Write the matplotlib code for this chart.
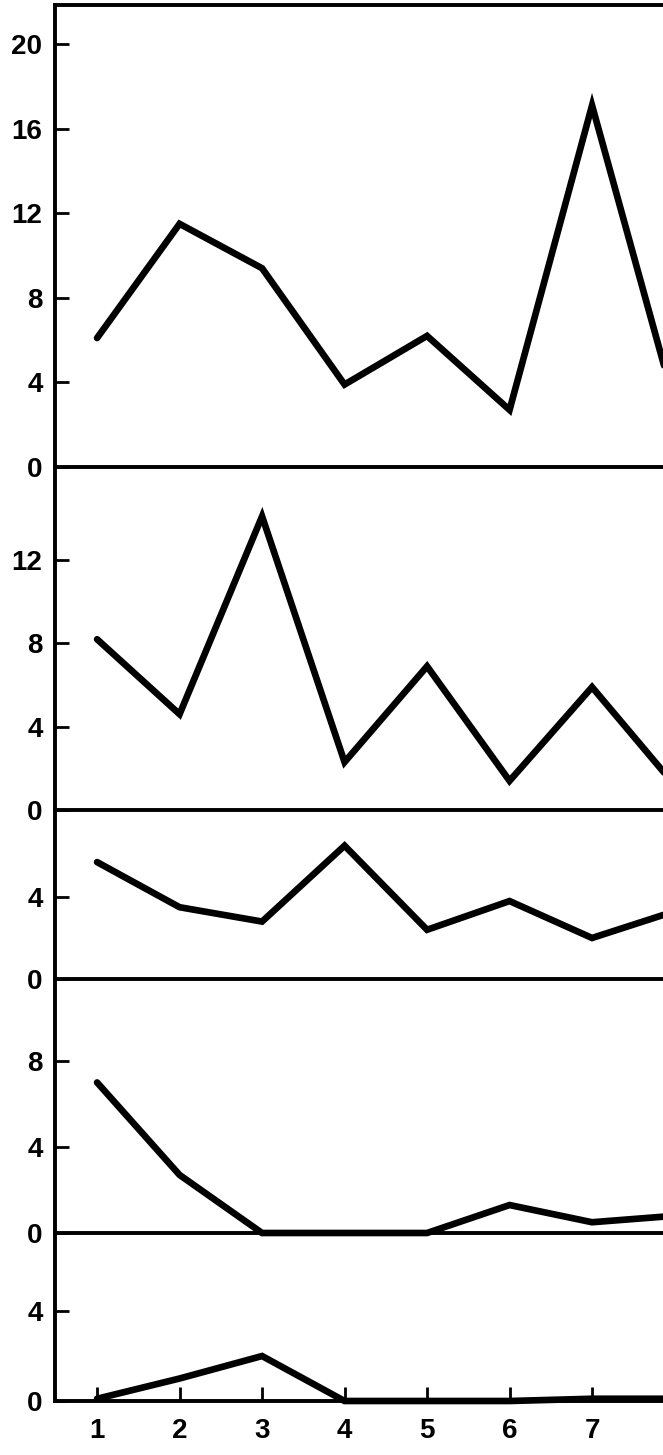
import matplotlib
matplotlib.use("Agg")
import matplotlib.pyplot as plt

# x positions along the bottom axis
x_vals = [1, 2, 3, 4, 5, 6, 7, 8]

# one series per stacked panel, top to bottom
panel1 = [6.1, 11.5, 9.4, 3.9, 6.2, 2.7, 17.1, 3.0]
panel2 = [8.2, 4.6, 14.1, 2.3, 6.9, 1.4, 5.9, 1.2]
panel3 = [5.7, 3.5, 2.8, 6.5, 2.4, 3.8, 2.0, 3.3]
panel4 = [7.0, 2.7, 0.0, 0.0, 0.0, 1.3, 0.5, 0.8]
panel5 = [0.1, 1.0, 2.0, 0.0, 0.0, 0.0, 0.1, 0.1]

series = [panel1, panel2, panel3, panel4, panel5]
y_ticks = [[0, 4, 8, 12, 16, 20], [0, 4, 8, 12], [0, 4], [0, 4, 8], [0, 4]]
y_tops = [21.85, 16.47, 8.24, 11.81, 7.47]
heights = [462, 343, 169, 254, 168]

plt.rcParams["font.family"] = ["Liberation Sans", "DejaVu Sans"]
plt.rcParams["font.weight"] = "bold"
FS = 20

fig, axes = plt.subplots(5, 1, figsize=(6.63, 14.55), dpi=100, sharex=True,
                         gridspec_kw={"height_ratios": heights, "hspace": 0})
fig.subplots_adjust(left=55 / 663, right=1.0, top=1 - 5 / 1455, bottom=1 - 1401 / 1455)

for i, ax in enumerate(axes):
    ax.patch.set_visible(False)  # don't let a lower panel hide the zero line above it
    ax.plot(x_vals, series[i], color="black", linewidth=4.8, clip_on=False,
            solid_joinstyle="miter", solid_capstyle="round")
    ax.set_ylim(0, y_tops[i])
    ax.set_xlim(0.49, 7.86)
    ax.set_yticks(y_ticks[i])
    ax.set_yticklabels([str(t) for t in y_ticks[i]], fontsize=FS, fontweight="bold")
    ax.tick_params(axis="y", direction="in", length=10, width=2, pad=9)
    ax.spines["right"].set_visible(False)
    for side in ["left", "bottom", "top"]:
        ax.spines[side].set_linewidth(2.8)
    if i > 0:
        ax.spines["top"].set_visible(False)
    if i < 4:
        ax.tick_params(axis="x", bottom=False, labelbottom=False)

bottom_ax = axes[-1]
bottom_ax.set_xticks(x_vals[:-1])
bottom_ax.set_xticklabels([str(v) for v in x_vals[:-1]], fontsize=FS, fontweight="bold")
bottom_ax.tick_params(axis="x", direction="in", length=10, width=2, pad=12)
# the last label sits past the right edge of the figure and is cut off
bottom_ax.annotate(str(x_vals[-1]), xy=(x_vals[-1], 0), xycoords=("data", "axes fraction"),
                   xytext=(0, -12), textcoords="offset points", ha="center", va="top",
                   fontsize=FS, fontweight="bold", annotation_clip=False)

fig.savefig("out.png", dpi=100)
